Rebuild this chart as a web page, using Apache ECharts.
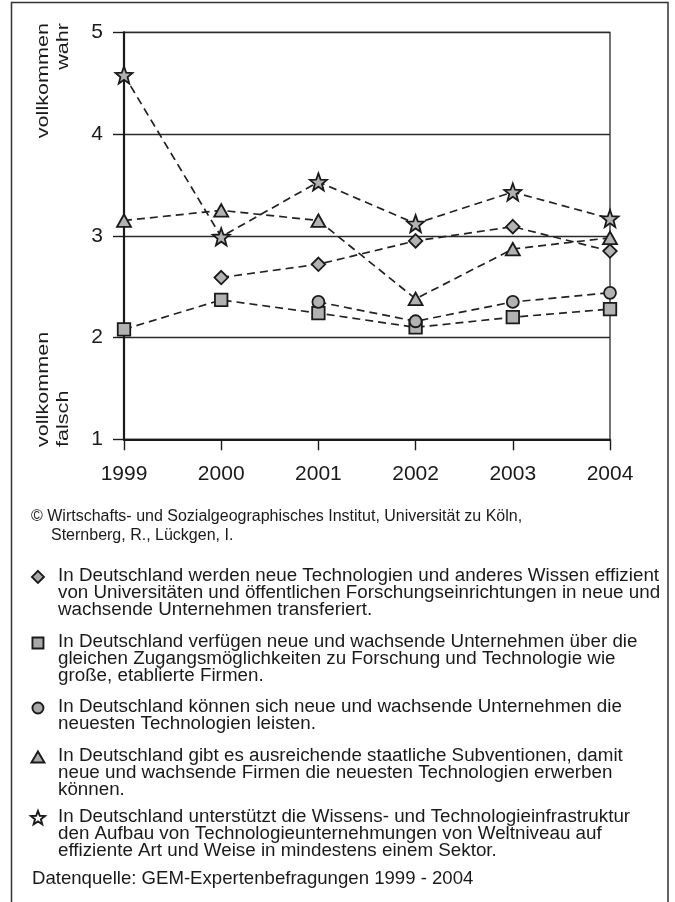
<!DOCTYPE html>
<html>
<head>
<meta charset="utf-8">
<script src="https://cdn.jsdelivr.net/npm/echarts@6/dist/echarts.min.js"></script>
<style>
  html, body { margin: 0; padding: 0; background: #fff; }
  #chart { width: 675px; height: 902px; }
</style>
</head>
<body>
<div id="chart"></div>
<script>
// Daten
const years = ['1999', '2000', '2001', '2002', '2003', '2004']
const yTicks = [1, 2, 3, 4, 5]
const wissenstransfer = [null, 2.59, 2.72, 2.95, 3.09, 2.85]
const zugang = [2.08, 2.37, 2.24, 2.10, 2.20, 2.28]
const leisten = [null, null, 2.35, 2.16, 2.35, 2.44]
const subventionen = [3.15, 3.25, 3.15, 2.38, 2.87, 2.98]
const infrastruktur = [4.58, 2.99, 3.53, 3.12, 3.43, 3.17]

const seriesNames = ['Wissenstransfer', 'Zugang', 'Leisten', 'Subventionen', 'Infrastruktur']
const legendLines = [
  ['In Deutschland werden neue Technologien und anderes Wissen effizient',
   'von Universitäten und öffentlichen Forschungseinrichtungen in neue und',
   'wachsende Unternehmen transferiert.'],
  ['In Deutschland verfügen neue und wachsende Unternehmen über die',
   'gleichen Zugangsmöglichkeiten zu Forschung und Technologie wie',
   'große, etablierte Firmen.'],
  ['In Deutschland können sich neue und wachsende Unternehmen die',
   'neuesten Technologien leisten.'],
  ['In Deutschland gibt es ausreichende staatliche Subventionen, damit',
   'neue und wachsende Firmen die neuesten Technologien erwerben',
   'können.'],
  ['In Deutschland unterstützt die Wissens- und Technologieinfrastruktur',
   'den Aufbau von Technologieunternehmungen von Weltniveau auf',
   'effiziente Art und Weise in mindestens einem Sektor.']
]
const copyrightText = '© Wirtschafts- und Sozialgeographisches Institut, Universität zu Köln,'
const authorsText = 'Sternberg, R., Lückgen, I.'
const sourceText = 'Datenquelle: GEM-Expertenbefragungen 1999 - 2004'

const FONT = "'Liberation Sans', Arial, sans-serif"
const STAR = 'path://M50,0L62.3,33L97.6,34.5L70,56.5L79.4,90.5L50,71L20.6,90.5L30,56.5L2.4,34.5L37.7,33Z'

const chart = echarts.init(document.getElementById('chart'))

const symbols = ['diamond', 'rect', 'circle', 'triangle', STAR]
const symbolSizes = [13.5, 12.5, 12, [14, 12.5], 17]
const dataSets = [wissenstransfer, zugang, leisten, subventionen, infrastruktur]

// Legende: Symbole über legend, Texte als graphic daneben
const legendIconY = [576, 642, 707, 756, 817]
const legendIconSize = [[12, 12], [11, 11], [11, 11], [13, 11], [14, 14]]
const LH = 16.8

const legends = seriesNames.map((name, i) => {
  const [w, h] = legendIconSize[i]
  return {
    data: [{ name: name, icon: symbols[i] }],
    left: 37 - w / 2,
    top: legendIconY[i] - h / 2,
    padding: 0,
    itemWidth: w,
    itemHeight: h,
    selectedMode: false,
    formatter: () => '',
    textStyle: { fontSize: 1, lineHeight: 1 },
    itemStyle: {
      color: i === 4 ? '#fff' : '#a8a8a8',
      borderColor: '#1a1a1a',
      borderWidth: 1.9
    }
  }
})

const legendTexts = legendLines.map((lines, i) => ({
  type: 'text',
  x: 58,
  y: legendIconY[i] - LH / 2,
  style: {
    text: lines.join('\n'),
    font: '18.8px ' + FONT,
    lineHeight: LH,
    verticalAlign: 'top',
    fill: '#1a1a1a'
  },
  silent: true
}))

const option = {
  backgroundColor: '#fff',
  animation: false,
  grid: {
    left: 124,
    right: 65,
    top: 32.3,
    bottom: 902 - 439.3,
    show: true,
    borderColor: '#2a2a2a',
    borderWidth: 1.3
  },
  legend: legends,
  xAxis: {
    type: 'category',
    data: years,
    boundaryGap: false,
    axisLine: { lineStyle: { color: '#1a1a1a', width: 2.2 } },
    axisTick: { show: true, length: 11, lineStyle: { color: '#1a1a1a', width: 1.4 } },
    axisLabel: { color: '#1a1a1a', fontFamily: FONT, fontSize: 21, margin: 24 },
    splitLine: { show: false }
  },
  yAxis: {
    type: 'value',
    min: yTicks[0],
    max: yTicks[yTicks.length - 1],
    interval: 1,
    axisLine: { show: true, lineStyle: { color: '#1a1a1a', width: 2.2 } },
    axisTick: { show: true, length: 11, lineStyle: { color: '#1a1a1a', width: 1.4 } },
    axisLabel: { color: '#1a1a1a', fontFamily: FONT, fontSize: 21, margin: 21 },
    splitLine: { show: true, lineStyle: { color: '#2a2a2a', width: 1.4 } }
  },
  series: seriesNames.map((name, i) => ({
    type: 'line',
    name: name,
    data: dataSets[i],
    symbol: symbols[i],
    symbolSize: symbolSizes[i],
    showAllSymbol: true,
    connectNulls: false,
    lineStyle: { color: '#222', width: 1.7, type: [8, 5] },
    itemStyle: { color: '#b2b2b2', borderColor: '#1a1a1a', borderWidth: 1.8 },
    emphasis: { disabled: true }
  })),
  graphic: [
    {
      type: 'rect',
      shape: { x: 11.5, y: 2.5, width: 656.5, height: 930 },
      style: { fill: 'none', stroke: '#333', lineWidth: 1.5 },
      silent: true
    },
    {
      type: 'text',
      x: 33, y: 23,
      rotation: Math.PI / 2,
      scaleX: 1.27,
      style: {
        text: 'vollkommen\nwahr',
        font: '17px ' + FONT,
        lineHeight: 20,
        align: 'right',
        verticalAlign: 'top',
        fill: '#1a1a1a'
      },
      silent: true
    },
    {
      type: 'text',
      x: 33, y: 447,
      rotation: Math.PI / 2,
      scaleX: 1.27,
      style: {
        text: 'vollkommen\nfalsch',
        font: '17px ' + FONT,
        lineHeight: 20,
        align: 'left',
        verticalAlign: 'top',
        fill: '#1a1a1a'
      },
      silent: true
    },
    {
      type: 'text',
      x: 31, y: 517,
      style: { text: copyrightText, font: '16px ' + FONT, fill: '#1a1a1a', verticalAlign: 'middle' },
      silent: true
    },
    {
      type: 'text',
      x: 51, y: 536,
      style: { text: authorsText, font: '16px ' + FONT, fill: '#1a1a1a', verticalAlign: 'middle' },
      silent: true
    },
    {
      type: 'text',
      x: 32, y: 879,
      style: { text: sourceText, font: '18.6px ' + FONT, fill: '#1a1a1a', verticalAlign: 'middle' },
      silent: true
    }
  ].concat(legendTexts)
}

chart.setOption(option)
</script>
</body>
</html>
